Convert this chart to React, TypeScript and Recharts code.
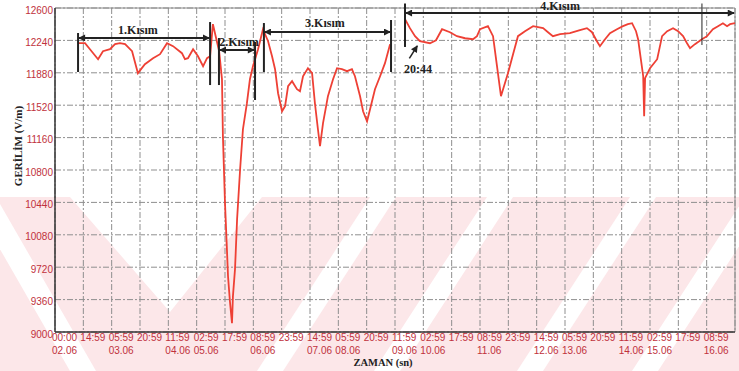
import {
  LineChart,
  Line,
  XAxis,
  YAxis,
  CartesianGrid,
  ReferenceLine,
  ReferenceDot,
} from "recharts";

// ─── Data ────────────────────────────────────────────────────────────────────

// x axis: hours since 02.06 00:00, one tick every 15 h
const TICK_HOURS = [
  0, 15, 30, 45, 60, 75, 90, 105, 120, 135, 150, 165, 180, 195, 210, 225, 240,
  255, 270, 285, 300, 315, 330, 345,
];
const TIME_LABELS = [
  "00:00", "14:59", "05:59", "20:59", "11:59", "02:59", "17:59", "08:59",
  "23:59", "14:59", "05:59", "20:59", "11:59", "02:59", "17:59", "08:59",
  "23:59", "14:59", "05:59", "20:59", "11:59", "02:59", "17:59", "08:59",
];
const DATE_LABELS = [
  "02.06", "", "03.06", "", "04.06", "05.06", "", "06.06",
  "", "07.06", "08.06", "", "09.06", "10.06", "", "11.06",
  "", "12.06", "13.06", "", "14.06", "15.06", "", "16.06",
];
const Y_TICKS = [
  9000, 9360, 9720, 10080, 10440, 10800, 11160, 11520, 11880, 12240, 12600,
];

// measured field (V/m) vs hours; null = no data
const HOURS = [
  12.2, 15.9, 18.5, 22.8, 25.4, 29.1, 31.8, 34.4, 37.1, 40.8, 43.9, 47.6, 51.9,
  55.6, 59.3, 62.5, 67.2, 68.8, 70.4, 73.1, 75.7, 78.4, 80.5, 82.1, 83.6,
  86.9, 88.4, 88.9, 90.0, 91.1, 91.6, 92.6, 93.7, 94.2, 95.3, 96.4, 98.0, 99.5,
  101.6, 103.2, 104.8, 107.5, 110.1, 112.8, 114.9, 116.5, 118.1, 120.2, 121.8,
  123.4, 125.5, 128.1, 129.7, 131.3, 133.9, 136.1, 137.6, 139.2, 140.3, 141.9,
  144.5, 147.2, 149.3, 151.9, 154.6, 157.2, 158.8, 161.5, 163.1, 165.2, 166.8,
  169.4, 172.1, 174.7, 177.4, 181,
  185.3, 187.9, 190.6, 193.2, 198.5, 201.7, 204.9, 209.1, 212.8, 217.1, 221.3,
  223.4, 225.0, 229.2, 231.9, 234.0, 236.1, 237.7, 239.8, 242.5, 245.1, 248.8,
  253.1, 255.7, 258.4, 261.0, 263.6, 267.4, 272.6, 277.9, 281.6, 284.3, 286.9,
  288.5, 291.2, 293.8, 297.5, 300.7, 303.3, 305.5, 307.6, 308.7, 310.3, 311.4,
  311.9, 312.4, 315.0, 318.8, 321.4, 324.1, 327.2, 329.9, 332.5, 334.6, 336.2,
  338.8, 342.5, 345.2, 348.3, 351.0, 353.6, 355.8, 357.4, 360,
];
const GERILIM: (number | null)[] = [
  12209, 12209, 12142, 12031, 12120, 12142, 12198, 12209, 12198, 12120, 11876,
  11976, 12042, 12087, 12209, 12176, 12098, 12031, 12042, 12142, 12064, 11953,
  12042, 12064, 12420,
  12120, 11809, 11176, 10431, 9876, 9620, 9342, 9098, 9398, 9698, 10253, 10809,
  11253, 11542, 11809, 11953, 12142, 12364, 12231, 12064, 11920, 11653, 11453,
  11509, 11731, 11787, 11698, 11676, 11842, 11931, 11876, 11542, 11253, 11064,
  11320, 11620, 11809, 11931, 11920, 11898, 11920, 11842, 11620, 11453, 11342,
  11476, 11698, 11842, 11987, 12198, null,
  12476, 12376, 12287, 12231, 12209, 12242, 12364, 12331, 12287, 12264, 12253,
  12287, 12364, 12398, 12287, 11953, 11620, 11731, 11876, 12087, 12287, 12342,
  12398, 12387, 12376, 12331, 12287, 12309, 12320, 12353, 12376, 12331, 12231,
  12176, 12253, 12320, 12364, 12398, 12420, 12431, 12342, 12253, 12009, 11842,
  11398, 11820, 11931, 12031, 12287, 12342, 12376, 12342, 12287, 12209, 12153,
  12198, 12253, 12287, 12364, 12398, 12431, 12398, 12420, 12431,
];

const chartData = HOURS.map((h, i) => ({ h, v: GERILIM[i] }));

// ─── Styles ──────────────────────────────────────────────────────────────────

const RED_TEXT = "#c0313c";
const INK = "#222";
const SANS = "'Liberation Sans', Arial, sans-serif";
const SERIF = "'Liberation Serif', 'Times New Roman', serif";

const labelStyle = {
  fill: INK,
  fontSize: 12,
  fontWeight: "bold",
  fontFamily: SERIF,
};

// ─── Bits ────────────────────────────────────────────────────────────────────

function TimeTick(props: any) {
  const { x, y, payload } = props;
  const i = TICK_HOURS.indexOf(payload.value);
  return (
    <g fontFamily={SANS} fontSize={10} fill={RED_TEXT}>
      <text x={x - 3} y={y + 9} textAnchor="start">
        {TIME_LABELS[i]}
      </text>
      <text x={x - 3} y={y + 22} textAnchor="start">
        {DATE_LABELS[i]}
      </text>
    </g>
  );
}

const barShape = (w: number, arrows?: "both" | "end") => (p: any) => (
  <line
    x1={p.x1}
    y1={p.y1}
    x2={p.x2}
    y2={p.y2}
    stroke={INK}
    strokeWidth={w}
    markerStart={arrows === "both" ? "url(#ah)" : undefined}
    markerEnd={arrows ? "url(#ah)" : undefined}
  />
);

// segments in data units: [h1, v1, h2, v2, width, arrows]
const BRACKETS: [number, number, number, number, number, "both" | "end" | undefined][] = [
  // 1.Kısım
  [12.2, 12322, 12.2, 11889, 2, undefined],
  [12.6, 12267, 81.7, 12267, 2, "both"],
  [82.1, 12444, 82.1, 11744, 2, undefined],
  // 2.Kısım
  [86.8, 12267, 86.8, 11744, 2, undefined],
  [87.2, 12133, 105.4, 12133, 2, "both"],
  [105.9, 12222, 105.9, 11578, 2, undefined],
  // 3.Kısım
  [110.6, 12433, 110.6, 11889, 2, undefined],
  [111, 12333, 177.5, 12333, 2, "both"],
  [177.9, 12467, 177.9, 11889, 2, undefined],
  // 4.Kısım
  [185.3, 12650, 185.3, 12167, 2, undefined],
  [185.7, 12544, 359.5, 12544, 2, "both"],
  [342.5, 12650, 342.5, 12189, 1, undefined],
  // 20:44 pointer
  [187.6, 12040, 191.8, 12180, 1.5, "end"],
];

const TAGS: [number, number, string][] = [
  [43.9, 12356, "1.Kısım"],
  [97.4, 12222, "2.Kısım"],
  [142.9, 12433, "3.Kısım"],
  [267.4, 12622, "4.Kısım"],
  [192.2, 11922, "20:44"],
];

// faint thesis watermark behind the plot
function Watermark() {
  const bands = [370, 487, 630, 745];
  return (
    <svg
      width={739}
      height={371}
      style={{ position: "absolute", left: 0, top: 0 }}
    >
      <rect x={0} y={197} width={739} height={174} fill="#fce7e9" />
      <polygon points="70,197 262,197 170,312" fill="#fff" />
      <polygon points="-30,197 -4,197 96,371 70,371" fill="#fff" />
      {bands.map((b) => (
        <polygon
          key={b}
          points={`${b},197 ${b + 26},197 ${b - 87},371 ${b - 113},371`}
          fill="#fff"
        />
      ))}
    </svg>
  );
}

// ─── Main ────────────────────────────────────────────────────────────────────

export default function App() {
  return (
    <div
      style={{
        position: "absolute",
        left: 0,
        top: 0,
        width: 739,
        height: 371,
        background: "#fff",
      }}
    >
      <Watermark />
      <div style={{ position: "absolute", left: 0, top: 0 }}>
        <LineChart
          width={739}
          height={371}
          data={chartData}
          margin={{ top: 8, right: 4, bottom: 0, left: 0 }}
        >
          <defs>
            <marker
              id="ah"
              viewBox="0 0 10 10"
              refX="9"
              refY="5"
              markerWidth="8"
              markerHeight="7"
              markerUnits="userSpaceOnUse"
              orient="auto-start-reverse"
            >
              <path d="M0,0 L10,5 L0,10 z" fill={INK} />
            </marker>
          </defs>

          <CartesianGrid stroke="#8f8f8f" strokeDasharray="6 2 2 2" />

          <XAxis
            dataKey="h"
            type="number"
            domain={[0, 360]}
            ticks={TICK_HOURS}
            tick={<TimeTick />}
            tickLine={false}
            tickSize={0}
            tickMargin={0}
            height={39}
            interval={0}
            axisLine={{ stroke: "#333", strokeWidth: 1.5 }}
            label={{
              content: () => (
                <text
                  x={383}
                  y={366}
                  textAnchor="middle"
                  fontFamily={SERIF}
                  fontWeight="bold"
                  fontSize={10.5}
                  fill={INK}
                >
                  ZAMAN (sn)
                </text>
              ),
            }}
          />
          <YAxis
            type="number"
            domain={[9000, 12600]}
            ticks={Y_TICKS}
            interval={0}
            width={55}
            tickLine={false}
            tickSize={0}
            tickMargin={2}
            axisLine={{ stroke: "#333", strokeWidth: 1.5 }}
            tick={{ fill: RED_TEXT, fontSize: 10, fontFamily: SANS, dy: 2 }}
            label={{
              content: () => (
                <text
                  x={22}
                  y={146}
                  transform="rotate(-90 22 146)"
                  textAnchor="middle"
                  fontFamily={SERIF}
                  fontWeight="bold"
                  fontSize={11}
                  fill={INK}
                >
                  GERİLİM (V/m)
                </text>
              ),
            }}
          />

          {/* frame top / right */}
          <ReferenceLine y={12600} stroke="#8a8a8a" strokeWidth={1} />
          <ReferenceLine x={360} stroke="#8a8a8a" strokeWidth={1} />

          <Line
            dataKey="v"
            stroke="#ee4035"
            strokeWidth={1.8}
            dot={false}
            activeDot={false}
            connectNulls={false}
            isAnimationActive={false}
          />

          {BRACKETS.map(([h1, v1, h2, v2, w, arrows], i) => (
            <ReferenceLine
              key={`b${i}`}
              segment={[
                { x: h1, y: v1 },
                { x: h2, y: v2 },
              ]}
              ifOverflow="visible"
              shape={barShape(w, arrows)}
            />
          ))}

          {TAGS.map(([h, v, text]) => (
            <ReferenceDot
              key={text}
              x={h}
              y={v}
              r={0}
              fill="none"
              stroke="none"
              ifOverflow="visible"
              label={{ value: text, position: "center", ...labelStyle }}
            />
          ))}
        </LineChart>
      </div>
    </div>
  );
}
